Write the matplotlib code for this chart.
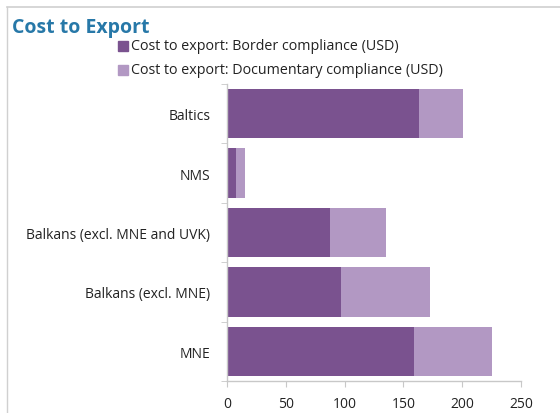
import matplotlib.pyplot as plt
import numpy as np
from matplotlib.patches import Rectangle
from matplotlib.lines import Line2D

plt.rcParams['font.family'] = ['Open Sans', 'DejaVu Sans']

# Data
categories = ["Baltics", "NMS", "Balkans (excl. MNE and UVK)", "Balkans (excl. MNE)", "MNE"]
border = [163, 8, 88, 97, 159]
documentary = [38, 7, 47, 76, 66]
series_names = ["Cost to export: Border compliance (USD)",
                "Cost to export: Documentary compliance (USD)"]
x_ticks = [0, 50, 100, 150, 200, 250]

dark = '#7a528f'
light = '#b298c3'
grid_col = '#c8c8c8'

fig = plt.figure(figsize=(5.6, 4.14), dpi=100)

# light frame around the chart (top and left visible)
fig.add_artist(Line2D([7/560, 7/560], [0, 1 - 8/414], color='#d0d0d0', lw=1))
fig.add_artist(Line2D([7/560, 1], [1 - 8/414, 1 - 8/414], color='#d0d0d0', lw=1.2))

ax = fig.add_axes([227/560, 1 - 382/414, (521 - 227)/560, (382 - 85)/414])

y = np.arange(len(categories))
ax.barh(y, border, height=0.83, color=dark, label=series_names[0])
ax.barh(y, documentary, left=border, height=0.83, color=light, label=series_names[1])

ax.set_xlim(0, 250)
ax.set_ylim(len(categories) - 0.5, -0.5)
ax.set_xticks(x_ticks)
ax.set_xticklabels([str(t) for t in x_ticks])
ax.set_yticks(y)
ax.set_yticklabels(categories)
ax.tick_params(axis='y', length=0, pad=12, labelsize=10, labelcolor='#222222')
ax.tick_params(axis='x', length=4, color=grid_col, pad=7, labelsize=10, labelcolor='#222222')

# separator ticks on the category axis
ax.set_yticks(np.arange(len(categories) + 1) - 0.5, minor=True)
ax.tick_params(axis='y', which='minor', length=4, color=grid_col)

for s in ['top', 'right']:
    ax.spines[s].set_visible(False)
for s in ['left', 'bottom']:
    ax.spines[s].set_color(grid_col)
    ax.spines[s].set_linewidth(1)

fig.text(12/560, 1 - 28/414, "Cost to Export", fontsize=14, fontweight='bold',
         color='#2778a8', va='center', ha='left')

# legend entries
for i, (name, col) in enumerate(zip(series_names, [dark, light])):
    yy = 1 - (47 + 24 * i) / 414
    fig.add_artist(Rectangle((118/560, yy - 5/414), 10/560, 10/414,
                             transform=fig.transFigure, color=col))
    fig.text(131/560, yy, name, fontsize=10.3, color='#222222', va='center', ha='left')

plt.savefig('out.png', dpi=100)
